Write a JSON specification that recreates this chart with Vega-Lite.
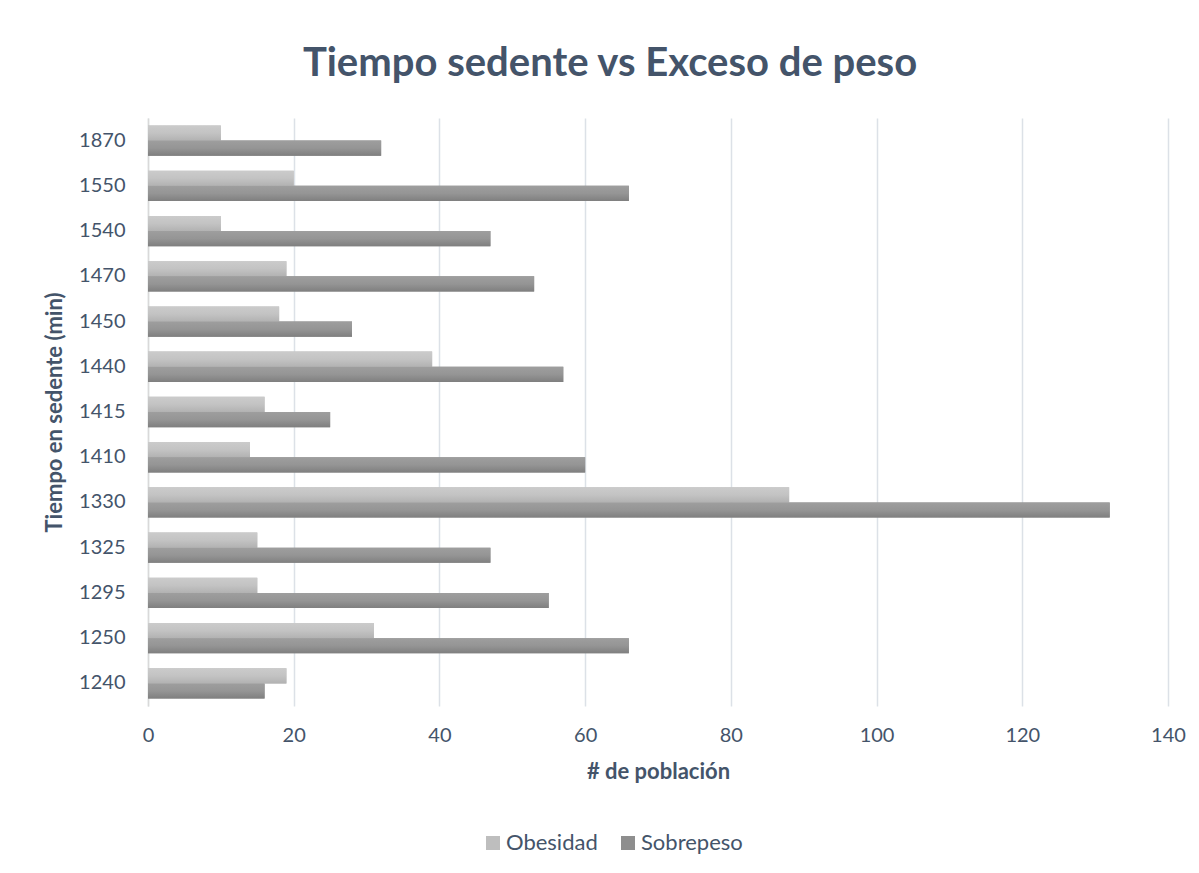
{
  "$schema": "https://vega.github.io/schema/vega-lite/v6.json",
  "width": 1020,
  "height": 588,
  "autosize": {"type": "none"},
  "padding": {"left": 148, "top": 118, "right": 31, "bottom": 167},
  "background": "white",
  "title": {
    "text": "Tiempo sedente vs Exceso de peso",
    "font": "Lato",
    "fontSize": 40,
    "fontWeight": "bold",
    "color": "#44546A",
    "anchor": "middle",
    "dx": -48,
    "offset": 34
  },
  "data": {
    "values": [
      {"tiempo": "1870", "grupo": "Obesidad", "poblacion": 10},
      {"tiempo": "1870", "grupo": "Sobrepeso", "poblacion": 32},
      {"tiempo": "1550", "grupo": "Obesidad", "poblacion": 20},
      {"tiempo": "1550", "grupo": "Sobrepeso", "poblacion": 66},
      {"tiempo": "1540", "grupo": "Obesidad", "poblacion": 10},
      {"tiempo": "1540", "grupo": "Sobrepeso", "poblacion": 47},
      {"tiempo": "1470", "grupo": "Obesidad", "poblacion": 19},
      {"tiempo": "1470", "grupo": "Sobrepeso", "poblacion": 53},
      {"tiempo": "1450", "grupo": "Obesidad", "poblacion": 18},
      {"tiempo": "1450", "grupo": "Sobrepeso", "poblacion": 28},
      {"tiempo": "1440", "grupo": "Obesidad", "poblacion": 39},
      {"tiempo": "1440", "grupo": "Sobrepeso", "poblacion": 57},
      {"tiempo": "1415", "grupo": "Obesidad", "poblacion": 16},
      {"tiempo": "1415", "grupo": "Sobrepeso", "poblacion": 25},
      {"tiempo": "1410", "grupo": "Obesidad", "poblacion": 14},
      {"tiempo": "1410", "grupo": "Sobrepeso", "poblacion": 60},
      {"tiempo": "1330", "grupo": "Obesidad", "poblacion": 88},
      {"tiempo": "1330", "grupo": "Sobrepeso", "poblacion": 132},
      {"tiempo": "1325", "grupo": "Obesidad", "poblacion": 15},
      {"tiempo": "1325", "grupo": "Sobrepeso", "poblacion": 47},
      {"tiempo": "1295", "grupo": "Obesidad", "poblacion": 15},
      {"tiempo": "1295", "grupo": "Sobrepeso", "poblacion": 55},
      {"tiempo": "1250", "grupo": "Obesidad", "poblacion": 31},
      {"tiempo": "1250", "grupo": "Sobrepeso", "poblacion": 66},
      {"tiempo": "1240", "grupo": "Obesidad", "poblacion": 19},
      {"tiempo": "1240", "grupo": "Sobrepeso", "poblacion": 16}
    ]
  },
  "encoding": {
    "y": {
      "field": "tiempo",
      "type": "nominal",
      "sort": "descending",
      "scale": {"paddingInner": 0.33, "paddingOuter": 0.165},
      "axis": {
        "title": "Tiempo en sedente (min)",
        "titleFont": "Lato",
        "titleFontSize": 22,
        "titleFontWeight": "bold",
        "titleColor": "#44546A",
        "titlePadding": 12,
        "labelFont": "Lato",
        "labelFontSize": 20,
        "labelColor": "#44546A",
        "labelPadding": 23,
        "ticks": false,
        "domain": true,
        "domainColor": "#D9D9D9",
        "domainWidth": 1.5,
        "grid": false
      }
    },
    "yOffset": {"field": "grupo", "type": "nominal", "sort": ["Obesidad", "Sobrepeso"]},
    "x": {
      "field": "poblacion",
      "type": "quantitative",
      "scale": {"domain": [0, 140], "nice": false},
      "axis": {
        "title": "# de población",
        "titleFont": "Lato",
        "titleFontSize": 22,
        "titleFontWeight": "bold",
        "titleColor": "#44546A",
        "titlePadding": 16,
        "values": [0, 20, 40, 60, 80, 100, 120, 140],
        "labelFont": "Lato",
        "labelFontSize": 20,
        "labelColor": "#44546A",
        "labelPadding": 19,
        "labelFlush": false,
        "ticks": false,
        "domain": false,
        "grid": true,
        "gridColor": "#DCE1E7",
        "gridWidth": 1.5
      }
    }
  },
  "layer": [
    {
      "mark": {"type": "bar"},
      "encoding": {
        "color": {
          "field": "grupo",
          "type": "nominal",
          "scale": {"domain": ["Obesidad", "Sobrepeso"], "range": ["#BEBEBE", "#8E8E8E"]},
          "legend": {
            "title": null,
            "orient": "none",
            "direction": "horizontal",
            "legendX": 334,
            "legendY": 714,
            "symbolType": "square",
            "symbolSize": 196,
            "symbolStrokeWidth": 0,
            "symbolOpacity": 1,
            "labelFont": "Lato",
            "labelFontSize": 22,
            "labelColor": "#44546A",
            "labelOffset": 2,
            "columnPadding": 19
          }
        }
      }
    },
    {
      "transform": [{"filter": "datum.grupo === 'Obesidad'"}],
      "mark": {
        "type": "bar",
        "color": {"gradient": "linear", "x1": 0, "y1": 0, "x2": 0, "y2": 1,
          "stops": [{"offset": 0, "color": "#CBCBCB"}, {"offset": 0.5, "color": "#C3C3C3"}, {"offset": 1, "color": "#B2B2B2"}]}
      }
    },
    {
      "transform": [{"filter": "datum.grupo === 'Sobrepeso'"}],
      "mark": {
        "type": "bar",
        "color": {"gradient": "linear", "x1": 0, "y1": 0, "x2": 0, "y2": 1,
          "stops": [{"offset": 0, "color": "#9E9E9E"}, {"offset": 0.5, "color": "#959595"}, {"offset": 1, "color": "#7F7F7F"}]}
      }
    }
  ],
  "config": {"view": {"stroke": null}}
}
